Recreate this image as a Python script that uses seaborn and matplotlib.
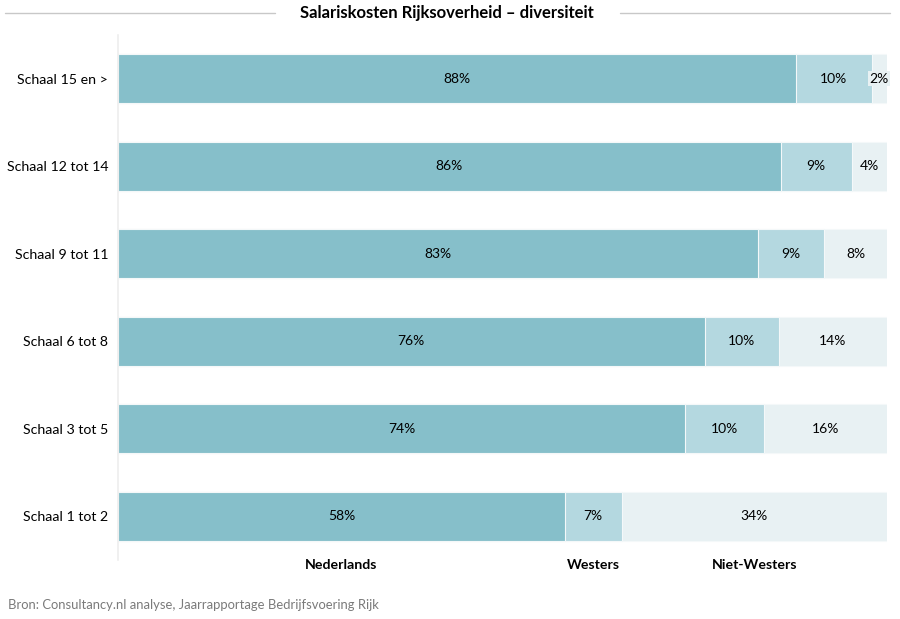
import matplotlib
matplotlib.use("Agg")
import matplotlib.pyplot as plt
from matplotlib.lines import Line2D
import matplotlib.transforms as mtransforms
import pandas as pd
import seaborn as sns

categories = ["Schaal 15 en >", "Schaal 12 tot 14", "Schaal 9 tot 11",
              "Schaal 6 tot 8", "Schaal 3 tot 5", "Schaal 1 tot 2"]
nederlands = [88.2, 86.2, 83.2, 76.3, 73.7, 58.1]
westers = [9.8, 9.2, 8.6, 9.6, 10.3, 7.4]
niet_westers = [2.0, 4.6, 8.2, 14.1, 16.0, 34.5]
# percentages as printed on the bars
lbl_ned = ["88%", "86%", "83%", "76%", "74%", "58%"]
lbl_wes = ["10%", "9%", "9%", "10%", "10%", "7%"]
lbl_nw = ["2%", "4%", "8%", "14%", "16%", "34%"]
series = ["Nederlands", "Westers", "Niet-Westers"]
colors = ["#86bfca", "#b4d8e0", "#e8f1f3"]

df = pd.DataFrame({"schaal": categories, "Nederlands": nederlands,
                   "Westers": westers, "Niet-Westers": niet_westers})
df["c1"] = df["Nederlands"]
df["c2"] = df["c1"] + df["Westers"]
df["c3"] = df["c2"] + df["Niet-Westers"]

sns.set_theme(style="white")
plt.rcParams["font.family"] = ["Lato", "DejaVu Sans"]

fig = plt.figure(figsize=(9, 6.19), dpi=100)
ax = fig.add_axes([118 / 900, 1 - 560 / 619, 769 / 900, 525 / 619])

# stacked bars drawn as overlapping cumulative totals
for col, c in zip(["c3", "c2", "c1"], colors[::-1]):
    sns.barplot(data=df, x=col, y="schaal", order=categories, color=c,
                saturation=1, width=0.56, edgecolor="#f4f8f9", linewidth=0.8,
                ax=ax)

ax.set_xlim(0, 100)
ax.set_ylim(5.5, -0.5)
ax.set_xlabel("")
ax.set_ylabel("")
ax.set_xticks([])
ax.tick_params(axis="y", length=0, pad=7, labelsize=10.2, labelcolor="black")
for s in ["top", "right", "bottom"]:
    ax.spines[s].set_visible(False)
ax.spines["left"].set_color("#eeeeee")
ax.spines["left"].set_linewidth(1.2)

# value labels
for i in range(len(categories)):
    starts = [0, df["c1"][i], df["c2"][i]]
    widths = [nederlands[i], westers[i], niet_westers[i]]
    texts = [lbl_ned[i], lbl_wes[i], lbl_nw[i]]
    for st, w, t, c in zip(starts, widths, texts, colors):
        ax.text(st + w / 2, i, t, ha="center", va="center", fontsize=10,
                color="black", bbox=dict(facecolor=c, edgecolor="none", pad=1))

# legend labels under the bottom bar segments
trans = mtransforms.blended_transform_factory(ax.transData, fig.transFigure)
last = len(categories) - 1
centers = [df["c1"][last] / 2,
           df["c1"][last] + westers[last] / 2,
           df["c2"][last] + niet_westers[last] / 2]
for x, name in zip(centers, series):
    ax.text(x, 1 - 565 / 619, name, transform=trans, ha="center", va="center",
            fontsize=10.2, fontweight="bold", color="black")

# title with rules on both sides
fig.text(447 / 900, 1 - 13 / 619, "Salariskosten Rijksoverheid \u2013 diversiteit",
         ha="center", va="center", fontsize=12, fontweight="bold", color="black")
ty = 1 - 13 / 619
fig.add_artist(Line2D([5 / 900, 275 / 900], [ty, ty], color="#c8c8c8", lw=1))
fig.add_artist(Line2D([620 / 900, 890 / 900], [ty, ty], color="#c8c8c8", lw=1))

fig.text(8 / 900, 1 - 605 / 619,
         "Bron: Consultancy.nl analyse, Jaarrapportage Bedrijfsvoering Rijk",
         ha="left", va="center", fontsize=9.4, color="#7a7a7a")

fig.savefig("out.png", dpi=100)
